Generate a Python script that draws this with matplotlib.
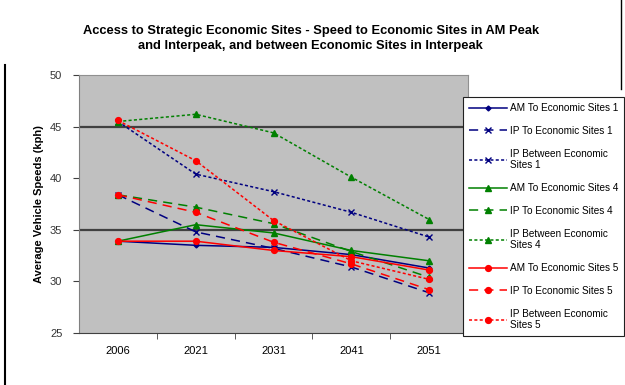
import numpy as np
import matplotlib.pyplot as plt
from matplotlib.lines import Line2D

plt.rcParams['font.family'] = ['Liberation Sans', 'DejaVu Sans']

years = ['2006', '2021', '2031', '2041', '2051']

# average vehicle speeds (kph)
am_to_1 = [33.9, 33.5, 33.3, 32.6, 31.3]
ip_to_1 = [38.4, 34.8, 33.2, 31.4, 28.9]
ip_between_1 = [45.5, 40.4, 38.7, 36.7, 34.3]
am_to_4 = [33.9, 35.5, 34.7, 33.0, 32.0]
ip_to_4 = [38.4, 37.2, 35.6, 32.9, 30.4]
ip_between_4 = [45.5, 46.2, 44.4, 40.1, 36.0]
am_to_5 = [33.9, 33.9, 33.0, 32.4, 31.1]
ip_to_5 = [38.4, 36.7, 33.8, 31.7, 29.2]
ip_between_5 = [45.6, 41.7, 35.9, 32.0, 30.2]

series = [
    ('AM To Economic Sites 1', am_to_1, '#000080', '-', 'D', 2.5),
    ('IP To Economic Sites 1', ip_to_1, '#000080', (0, (6, 4)), 'x', 4),
    ('IP Between Economic\nSites 1', ip_between_1, '#000080', (0, (2, 1.5)), 'x', 4),
    ('AM To Economic Sites 4', am_to_4, '#008000', '-', '^', 5),
    ('IP To Economic Sites 4', ip_to_4, '#008000', (0, (6, 4)), '^', 5),
    ('IP Between Economic\nSites 4', ip_between_4, '#008000', (0, (2, 1.5)), '^', 5),
    ('AM To Economic Sites 5', am_to_5, '#FF0000', '-', 'o', 4.2),
    ('IP To Economic Sites 5', ip_to_5, '#FF0000', (0, (6, 4)), 'o', 4.2),
    ('IP Between Economic\nSites 5', ip_between_5, '#FF0000', (0, (2, 1.5)), 'o', 4.2),
]

fig = plt.figure(figsize=(6.25, 3.85), dpi=100)
ax = fig.add_axes([0.1264, 0.135, 0.6226, 0.67])
ax.set_facecolor('#C0C0C0')

x = np.arange(len(years))
for label, vals, color, ls, marker, ms in series:
    ax.plot(x, vals, color=color, linestyle=ls, linewidth=1.1, marker=marker,
            markersize=ms, markeredgewidth=1.0, label=label)

ax.set_xlim(-0.5, len(years) - 0.5)
ax.set_ylim(25, 50)
ax.set_yticks(np.arange(25, 51, 5))
ax.set_xticks(x)
ax.set_xticklabels(years, fontsize=8)
ax.set_xticks(x[:-1] + 0.5, minor=True)
ax.tick_params(axis='x', which='major', length=0, pad=9)
ax.tick_params(axis='x', which='minor', length=4, direction='out', color='#404040')
ax.tick_params(axis='y', length=4, direction='out', labelsize=8, color='#404040',
               labelcolor='#333333', pad=8)

for y in (35, 45):
    ax.axhline(y, color='#404040', linewidth=1.6, zorder=1)

for side in ('top', 'right'):
    ax.spines[side].set_color('#909090')
ax.spines['left'].set_color('#808080')
ax.spines['bottom'].set_color('#404040')

ax.set_ylabel('Average Vehicle Speeds (kph)', fontsize=8, fontweight='bold', labelpad=4)

fig.text(0.497, 0.9,
         'Access to Strategic Economic Sites - Speed to Economic Sites in AM Peak\n'
         'and Interpeak, and between Economic Sites in Interpeak',
         ha='center', va='center', fontsize=9.3, fontweight='bold', linespacing=1.35)

leg = fig.legend(loc='upper left', bbox_to_anchor=(0.741, 0.748), fontsize=7.2,
                 frameon=True, fancybox=False, edgecolor='#202020', framealpha=1,
                 handlelength=3.8, labelspacing=1.28, borderpad=0.6,
                 handletextpad=0.25, borderaxespad=0)
leg.get_frame().set_linewidth(0.8)

# outer chart border
fig.add_artist(Line2D([0.008, 0.008], [0.0, 0.83], color='black', linewidth=1.5))
fig.add_artist(Line2D([0.993, 0.993], [0.77, 1.0], color='black', linewidth=1.0))

fig.savefig('out.png', dpi=100)
